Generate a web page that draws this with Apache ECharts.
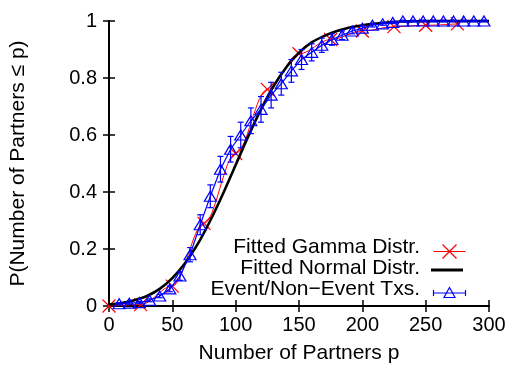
<!DOCTYPE html>
<html>
<head>
<meta charset="utf-8">
<script src="https://cdn.jsdelivr.net/npm/echarts@6/dist/echarts.min.js"></script>
<style>
html,body{margin:0;padding:0;background:#fff;}
#main{width:511px;height:369px;}
</style>
</head>
<body>
<div id="main"></div>
<script>
// ---- data ----
const xTicks = [0, 50, 100, 150, 200, 250, 300];
const yTicks = [0, 0.2, 0.4, 0.6, 0.8, 1];

// Fitted Gamma Distr. (red X markers)
const gammaX = [0, 25, 50, 75, 100, 125, 150, 175, 200, 225, 250, 275];
const gammaY = [0, 0.005, 0.07, 0.29, 0.535, 0.76, 0.885, 0.935, 0.965, 0.98, 0.985, 0.99];

// Fitted Normal Distr. (black curve)
const normalX = [0, 10, 20, 30, 40, 50, 60, 70, 80, 90, 100, 110, 120, 130, 140, 150, 160, 170, 180, 190, 200, 210, 220, 230, 240, 250, 260, 270, 280, 290, 300];
const normalY = [0.005, 0.010, 0.020, 0.035, 0.060, 0.098, 0.150, 0.217, 0.300, 0.394, 0.495, 0.596, 0.690, 0.772, 0.838, 0.889, 0.925, 0.948, 0.965, 0.977, 0.985, 0.991, 0.995, 0.998, 0.999, 1.0, 1.0, 1.0, 1.0, 1.0, 1.0];

// Event/Non-Event Txs. (blue triangles with error bars)
const eventX = [8, 16, 24, 32, 40, 48, 56, 64, 72, 80, 88, 96, 104, 112, 120, 128, 136, 144, 152, 160, 168, 176, 184, 192, 200, 208, 216, 224, 232, 240, 248, 256, 264, 272, 280, 288, 296];
const eventY = [0.008, 0.01, 0.012, 0.02, 0.035, 0.06, 0.105, 0.18, 0.285, 0.385, 0.48, 0.55, 0.60, 0.65, 0.69, 0.74, 0.78, 0.825, 0.865, 0.89, 0.915, 0.935, 0.95, 0.965, 0.975, 0.985, 0.99, 0.995, 1.0, 1.0, 1.0, 1.0, 1.0, 1.0, 1.0, 1.0, 1.0];
const eventErr = [0.004, 0.004, 0.004, 0.005, 0.006, 0.01, 0.015, 0.025, 0.035, 0.04, 0.045, 0.045, 0.045, 0.045, 0.045, 0.045, 0.04, 0.04, 0.035, 0.03, 0.025, 0.02, 0.015, 0.01, 0.008, 0.006, 0.005, 0.004, 0.003, 0.003, 0.003, 0.003, 0.003, 0.003, 0.003, 0.003, 0.003];

const legendNames = ['Fitted Gamma Distr.', 'Fitted Normal Distr.', 'Event/Non\u2212Event Txs.'];

// ---- chart ----
const FONT = 'Liberation Sans, Arial, Helvetica, sans-serif';
const BLUE = '#0000ff', RED = '#ff0000';
const chart = echarts.init(document.getElementById('main'), null, {renderer: 'canvas'});

const gammaData = gammaX.map((x, i) => [x, gammaY[i]]);
const normalData = normalX.map((x, i) => [x, normalY[i]]);
const eventData = eventX.map((x, i) => [x, eventY[i]]);
const errData = eventX.map((x, i) => [x, eventY[i] - eventErr[i], Math.min(eventY[i] + eventErr[i], 1.005)]);

const axisCommon = {
  min: 0,
  axisLine: {show: true, lineStyle: {color: '#000', width: 2}},
  axisTick: {show: true, inside: true, length: 6, lineStyle: {color: '#000', width: 1.5}},
  splitLine: {show: false}
};

const legendY = [249, 270, 291];
const legendGraphics = [];
legendNames.forEach((n, i) => {
  legendGraphics.push({type: 'text', right: 511 - 420, top: legendY[i] - 12,
    style: {text: n, font: '21px ' + FONT, fill: '#000', textAlign: 'right'}});
});
// sample: red X
legendGraphics.push({type: 'group', left: 431, top: legendY[0] - 7, children: [
  {type: 'line', shape: {x1: 0, y1: 7, x2: 32, y2: 7}, style: {stroke: RED, lineWidth: 1.2}},
  {type: 'line', shape: {x1: 9, y1: 0, x2: 23, y2: 14}, style: {stroke: RED, lineWidth: 1.2}},
  {type: 'line', shape: {x1: 9, y1: 14, x2: 23, y2: 0}, style: {stroke: RED, lineWidth: 1.2}}
]});
legendGraphics.push({type: 'line', shape: {x1: 431, y1: legendY[1], x2: 463, y2: legendY[1]}, style: {stroke: '#000', lineWidth: 3}});
legendGraphics.push({type: 'group', left: 431, top: legendY[2] - 6, children: [
  {type: 'line', shape: {x1: 0, y1: 6, x2: 32, y2: 6}, style: {stroke: BLUE, lineWidth: 1.2}},
  {type: 'line', shape: {x1: 0, y1: 3, x2: 0, y2: 9}, style: {stroke: BLUE, lineWidth: 1.2}},
  {type: 'line', shape: {x1: 32, y1: 3, x2: 32, y2: 9}, style: {stroke: BLUE, lineWidth: 1.2}},
  {type: 'polygon', shape: {points: [[16, 0.5], [10.5, 10.5], [21.5, 10.5]]}, style: {stroke: BLUE, fill: 'none', lineWidth: 1.2}}
]});

const option = {
  animation: false,
  backgroundColor: '#fff',
  textStyle: {fontFamily: FONT},
  grid: {left: 107, right: 22, top: 21, bottom: 62, containLabel: false},
  xAxis: [
    Object.assign({}, axisCommon, {type: 'value', max: 300, interval: 50, position: 'bottom',
      axisLabel: {show: true, color: '#000', fontSize: 20, fontFamily: FONT, margin: 9},
      name: 'Number of Partners p', nameLocation: 'middle', nameGap: 37,
      nameTextStyle: {color: '#000', fontSize: 21, fontFamily: FONT}}),
    Object.assign({}, axisCommon, {type: 'value', max: 300, interval: 50, position: 'top', axisLabel: {show: false}})
  ],
  yAxis: [
    Object.assign({}, axisCommon, {type: 'value', max: 1, interval: 0.2, position: 'left',
      axisLabel: {show: true, color: '#000', fontSize: 20, fontFamily: FONT, margin: 12},
      name: 'P(Number of Partners \u2264 p)', nameLocation: 'middle', nameGap: 80, nameRotate: 90,
      nameTextStyle: {color: '#000', fontSize: 21, fontFamily: FONT}}),
    Object.assign({}, axisCommon, {type: 'value', max: 1, interval: 0.2, position: 'right', axisLabel: {show: false}})
  ],
  graphic: legendGraphics,
  series: [
    {
      name: legendNames[0], type: 'line', data: gammaData, clip: false,
      smooth: 0.35, smoothMonotone: 'x',
      symbol: 'path://M0,0L10,10M10,0L0,10', symbolSize: 13,
      itemStyle: {color: 'none', borderColor: RED, borderWidth: 1.2},
      lineStyle: {color: RED, width: 1},
      z: 2
    },
    {
      name: legendNames[1], type: 'line', data: normalData, clip: false,
      smooth: 0.3, showSymbol: false, symbol: 'none',
      lineStyle: {color: '#000', width: 2.6},
      z: 3
    },
    {
      name: legendNames[2] + ' err', type: 'custom', data: errData, clip: false, z: 4,
      renderItem: function (params, api) {
        const x = api.value(0), lo = api.value(1), hi = api.value(2);
        const p1 = api.coord([x, lo]), p2 = api.coord([x, hi]);
        const w = 3;
        const st = {stroke: BLUE, lineWidth: 1.2};
        return {type: 'group', children: [
          {type: 'line', shape: {x1: p1[0], y1: p1[1], x2: p2[0], y2: p2[1]}, style: st},
          {type: 'line', shape: {x1: p1[0] - w, y1: p1[1], x2: p1[0] + w, y2: p1[1]}, style: st},
          {type: 'line', shape: {x1: p2[0] - w, y1: p2[1], x2: p2[0] + w, y2: p2[1]}, style: st}
        ]};
      }
    },
    {
      name: legendNames[2], type: 'line', data: eventData, clip: false,
      symbol: 'triangle', symbolSize: [12, 10],
      itemStyle: {color: 'none', borderColor: BLUE, borderWidth: 1.2},
      lineStyle: {color: BLUE, width: 1.2},
      z: 5
    }
  ]
};
chart.setOption(option);
</script>
</body>
</html>
